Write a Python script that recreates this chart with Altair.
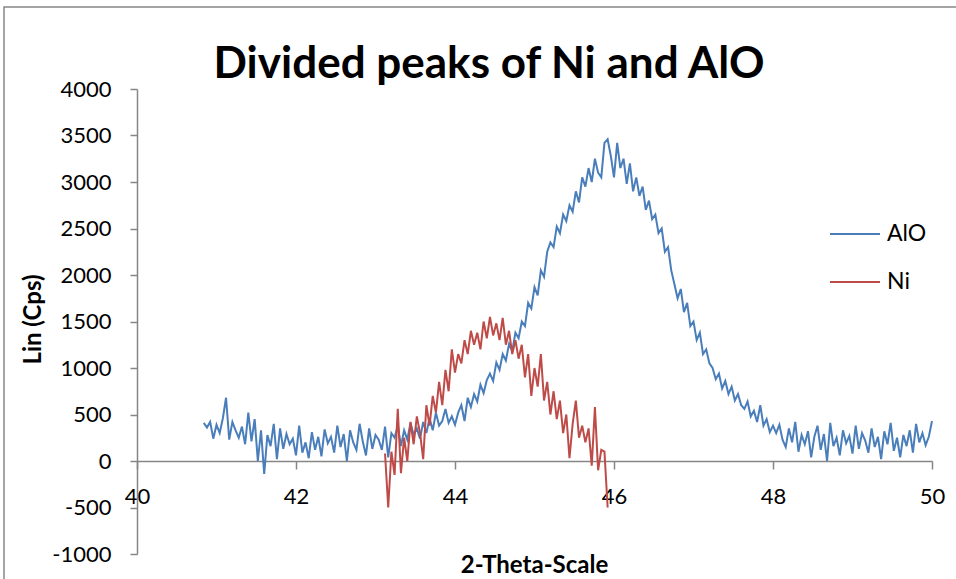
import altair as alt
import pandas as pd

# 2-theta grid: start angle and step (degrees) for each measured series
alo_start, alo_step = 40.84, 0.04
ni_start, ni_step = 43.12, 0.04

# AlO intensity (Lin, Cps)
alo_cps = [
    410, 360, 420, 240, 390, 300, 460, 680, 230, 420,
    330, 250, 370, 180, 520, 210, 450, 0, 330, -140,
    280, 160, 400, 20, 350, 130, 290, 180, 240, 60,
    380, 90, 200, 30, 310, 120, 260, 50, 340, 190,
    260, 90, 380, 150, 290, 0, 330, 200, 120, 400,
    210, 60, 350, 130, 280, 230, 120, 370, 40, 300,
    250, 380, 160, 330, 230, 410, 280, 350, 240, 420,
    300, 460, 330, 520, 380, 430, 560, 410, 480, 390,
    520, 600, 430, 680, 580, 720, 640, 820, 730, 870,
    940, 860, 1060, 980, 1150, 1080, 1260, 1180, 1380, 1320,
    1500, 1450, 1700, 1640, 1870, 1780, 2050, 1980, 2250, 2350,
    2300, 2520, 2450, 2650, 2580, 2750, 2680, 2900, 2780, 3050,
    2950, 3150, 3000, 3250, 3100, 3050, 3420, 3460, 3280, 3050,
    3420, 3150, 3250, 2980, 3200, 2900, 3050, 2850, 2950, 2700,
    2800, 2600, 2650, 2450, 2500, 2250, 2300, 2050, 1900, 1750,
    1850, 1600, 1700, 1450, 1500, 1300, 1380, 1150, 1200, 1050,
    1000, 880, 940, 780, 860, 720, 800, 650, 720, 600,
    560, 640, 480, 540, 420, 600, 380, 450, 310, 380,
    300, 390, 230, 150, 350, 200, 420, 100, 280, 180,
    320, 40, 260, 380, 120, 290, 0, 410, 160, 250,
    60, 330, 190, 270, 80, 380, 130, 300, 220, 90,
    350, 150, 260, 20, 320, 180, 410, 110, 250, 40,
    280, 160, 330, 90, 400, 200, 300, 170, 260, 430,
]

# Ni intensity (Lin, Cps)
ni_cps = [
    80, -500, 100, -150, 560, -130, 250, 0, 420, 180,
    480, 300, 20, 600, 380, 700, 520, 850, 600, 980,
    750, 1200, 950, 1150, 1050, 1300, 1150, 1400, 1250, 1380,
    1200, 1500, 1320, 1550, 1350, 1480, 1300, 1540, 1250, 1400,
    1150, 1300, 1100, 1250, 900, 1150, 700, 1000, 800, 1150,
    650, 850, 500, 750, 450, 650, 300, 500, 30, 400,
    650, 250, 380, 200, 350, -50, 580, -100, 120, 100,
    -500,
]

series_names = ["AlO", "Ni"]
series_colors = ["#4a7ebb", "#be4b48"]
x_ticks = [40, 42, 44, 46, 48, 50]
y_ticks = [-1000, -500, 0, 500, 1000, 1500, 2000, 2500, 3000, 3500, 4000]
chart_title = "Divided peaks of Ni and AlO"

rows = []
for i, v in enumerate(alo_cps):
    rows.append({"theta": round(alo_start + i * alo_step, 2), "cps": v, "series": "AlO", "idx": i})
for i, v in enumerate(ni_cps):
    rows.append({"theta": round(ni_start + i * ni_step, 2), "cps": v, "series": "Ni", "idx": i})
df = pd.DataFrame(rows)

FONT = "Lato"
AXIS_GREY = "#868686"
# plain-number labels with an ASCII hyphen for negatives
PLAIN_LABEL = "'' + datum.value"

lines = alt.Chart(df).mark_line(strokeWidth=2).encode(
    x=alt.X(
        "theta:Q",
        scale=alt.Scale(domain=[40, 50], nice=False, zero=False),
        axis=alt.Axis(
            title="2-Theta-Scale",
            values=x_ticks,
            labelExpr=PLAIN_LABEL,
            offset=-93,
            tickSize=8,
            labelPadding=17,
            labelFlush=False,
            titleX=397,
            titleY=104,
            titleBaseline="middle",
            titleAlign="center",
        ),
    ),
    y=alt.Y(
        "cps:Q",
        scale=alt.Scale(domain=[-1000, 4000], nice=False),
        axis=alt.Axis(
            title="Lin (Cps)",
            values=y_ticks,
            labelExpr=PLAIN_LABEL,
            tickSize=7,
            labelPadding=19,
            titleX=-104,
            titleY=230,
            titleBaseline="middle",
            titleAlign="center",
        ),
    ),
    color=alt.Color(
        "series:N",
        scale=alt.Scale(domain=series_names, range=series_colors),
        legend=alt.Legend(
            title=None,
            orient="none",
            legendX=692,
            legendY=119,
            symbolType="stroke",
            symbolSize=2500,
            symbolStrokeWidth=2,
            labelFontSize=23,
            labelFont=FONT,
            labelOffset=6,
            rowPadding=10,
        ),
    ),
    order="idx:Q",
)

# chart title, centred on the chart area
title = alt.Chart(alt.Data(values=[{"t": chart_title}])).mark_text(
    font=FONT, fontSize=44, fontWeight="bold", color="black",
    align="center", baseline="alphabetic",
).encode(x=alt.value(352), y=alt.value(-11), text="t:N")

# chart-area frame
frame = alt.Chart(alt.Data(values=[{}])).mark_rect(
    filled=False, stroke=AXIS_GREY, strokeWidth=1.5
).encode(
    x=alt.value(-133), x2=alt.value(840), y=alt.value(-82), y2=alt.value(520)
)

chart = alt.layer(lines, title, frame).properties(
    width=795,
    height=465,
    autosize=alt.AutoSizeParams(type="none"),
    padding={"left": 137, "top": 89, "right": 24, "bottom": 25},
).configure(background="white").configure_view(strokeWidth=0).configure_axis(
    grid=False,
    domainColor=AXIS_GREY,
    tickColor=AXIS_GREY,
    domainWidth=1.5,
    tickWidth=1.5,
    labelFont=FONT,
    labelFontSize=22,
    labelColor="black",
    titleFont=FONT,
    titleFontSize=24,
    titleFontWeight="bold",
    titleColor="black",
)

chart.save("out.html", embed_options={"renderer": "svg", "actions": False})
